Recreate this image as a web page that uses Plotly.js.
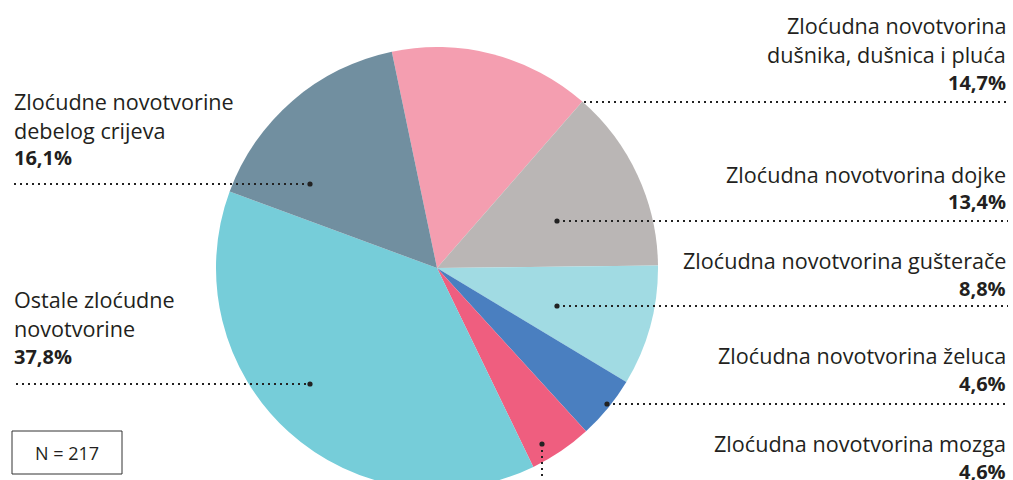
<!DOCTYPE html>
<html>
<head>
<meta charset="utf-8">
<script src="https://cdn.plot.ly/plotly-3.0.1.min.js"></script>
<style>
html,body{margin:0;padding:0;background:#fff;}
#wrap{width:1013px;height:480px;overflow:hidden;position:relative;}
#chart{width:1013px;height:536px;}
</style>
</head>
<body>
<div id="wrap"><div id="chart"></div></div>
<script>
// ---- data ----
const categories = [
  "Zloćudna novotvorina dušnika, dušnica i pluća",
  "Zloćudna novotvorina dojke",
  "Zloćudna novotvorina gušterače",
  "Zloćudna novotvorina želuca",
  "Zloćudna novotvorina mozga",
  "Ostale zloćudne novotvorine",
  "Zloćudne novotvorine debelog crijeva"
];
const values = [14.7, 13.4, 8.8, 4.6, 4.6, 37.8, 16.1];
const valueLabels = ["14,7%", "13,4%", "8,8%", "4,6%", "4,6%", "37,8%", "16,1%"];
const labelLines = [
  ["Zloćudna novotvorina", "dušnika, dušnica i pluća"],
  ["Zloćudna novotvorina dojke"],
  ["Zloćudna novotvorina gušterače"],
  ["Zloćudna novotvorina želuca"],
  ["Zloćudna novotvorina mozga"],
  ["Ostale zloćudne", "novotvorine"],
  ["Zloćudne novotvorine", "debelog crijeva"]
];
const colors = ["#F49EB0", "#BAB6B5", "#A1DBE3", "#4A7FC0", "#EF5E7F", "#76CDD9", "#718FA0"];
const sampleText = "N = 217";

// ---- layout helpers ----
const W = 1013, H = 536;
const px = x => x / W;
const py = y => 1 - y / H;
const FONT = "'Open Sans', Roboto, sans-serif";
const TXT = "#231F20";

// label placement (pixel positions of text blocks and leader lines)
const labelPos = [
  {side: "right", x: 1008, base: [33, 62, 90], line: [[584, 102], [1008, 102]], dot: null},
  {side: "right", x: 1008, base: [182, 209], line: [[557, 221], [1008, 221]], dot: [557, 221]},
  {side: "right", x: 1008, base: [268, 296], line: [[557, 306], [1008, 306]], dot: [557, 306]},
  {side: "right", x: 1008, base: [363, 391], line: [[607, 404], [1008, 404]], dot: [607, 404]},
  {side: "right", x: 1008, base: [451, 479], line: [[542, 444], [542, 482]], dot: [542, 444]},
  {side: "left", x: 12, base: [307, 336, 364], line: [[16, 384], [310, 384]], dot: [310, 384]},
  {side: "left", x: 12, base: [109, 138, 165], line: [[14, 184], [310, 184]], dot: [310, 184]}
];

const annotations = [];
const shapes = [];
labelPos.forEach((p, i) => {
  const lines = labelLines[i].concat([valueLabels[i]]);
  lines.forEach((t, j) => {
    const bold = j === lines.length - 1;
    annotations.push({
      xref: "paper", yref: "paper",
      x: px(p.x), y: py(p.base[j] - 7.5),
      xanchor: p.side === "right" ? "right" : "left",
      yanchor: "middle",
      text: bold ? "<b>" + t + "</b>" : t,
      showarrow: false,
      font: {family: FONT, size: bold ? 20 : 21.6, color: TXT}
    });
  });
  shapes.push({
    type: "line", xref: "paper", yref: "paper",
    x0: px(p.line[0][0]), y0: py(p.line[0][1]),
    x1: px(p.line[1][0]), y1: py(p.line[1][1]),
    line: {color: "#222", width: 2, dash: "2px,4px"}
  });
  if (p.dot) {
    const r = 2.6;
    shapes.push({
      type: "circle", xref: "paper", yref: "paper",
      x0: px(p.dot[0] - r), x1: px(p.dot[0] + r),
      y0: py(p.dot[1] - r), y1: py(p.dot[1] + r),
      fillcolor: "#222", line: {width: 0}
    });
  }
});

// N box
shapes.push({
  type: "rect", xref: "paper", yref: "paper",
  x0: px(12), x1: px(122), y0: py(431), y1: py(474),
  line: {color: "#333", width: 1}, fillcolor: "rgba(0,0,0,0)"
});
annotations.push({
  xref: "paper", yref: "paper", x: px(67), y: py(452.5),
  xanchor: "center", yanchor: "middle", showarrow: false,
  text: sampleText, font: {family: FONT, size: 18, color: TXT}
});

const trace = {
  type: "pie",
  labels: categories,
  values: values,
  sort: false,
  direction: "clockwise",
  rotation: -11.8,
  marker: {colors: colors, line: {width: 0}},
  textinfo: "none",
  hoverinfo: "label+percent",
  domain: {x: [216 / W, 658 / W], y: [1 - 489 / H, 1 - 47 / H]},
  showlegend: false
};

const layout = {
  width: W, height: H,
  margin: {l: 0, r: 0, t: 0, b: 0},
  paper_bgcolor: "#fff",
  plot_bgcolor: "#fff",
  showlegend: false,
  annotations: annotations,
  shapes: shapes,
  font: {family: FONT}
};

Plotly.newPlot("chart", [trace], layout, {displayModeBar: false, staticPlot: true});
</script>
</body>
</html>
